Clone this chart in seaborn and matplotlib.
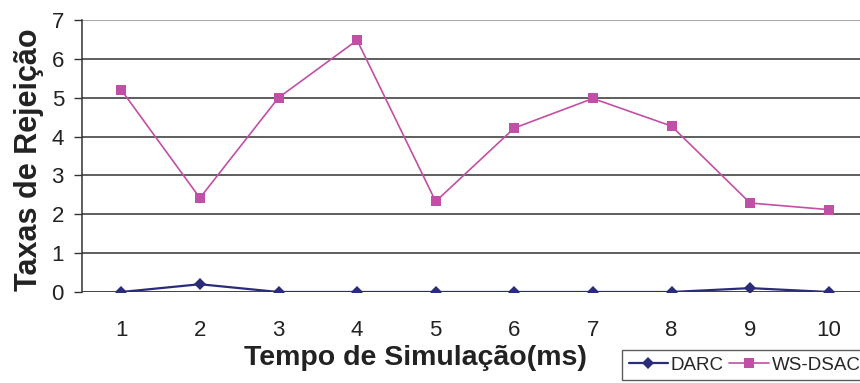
import matplotlib
matplotlib.use("Agg")
import matplotlib.pyplot as plt
import seaborn as sns
import pandas as pd

categories = [1, 2, 3, 4, 5, 6, 7, 8, 9, 10]
darc = [0.0, 0.2, 0.0, 0.0, 0.0, 0.0, 0.0, 0.0, 0.1, 0.0]
ws_dsac = [5.2, 2.42, 5.0, 6.48, 2.33, 4.22, 4.98, 4.27, 2.29, 2.12]
series_names = ["DARC", "WS-DSAC"]
y_ticks = [0, 1, 2, 3, 4, 5, 6, 7]

sns.set_style("white")
plt.rcParams['font.family'] = ['Liberation Sans', 'DejaVu Sans']

df = pd.DataFrame({
    "x": categories * 2,
    "y": darc + ws_dsac,
    "serie": [series_names[0]] * len(categories) + [series_names[1]] * len(categories),
})

fig = plt.figure(figsize=(8.6, 3.83), dpi=100)
ax = fig.add_axes([82/860, 1 - 292/383, (868-82)/860, (292-20)/383])

palette = {"DARC": "#2A2C7A", "WS-DSAC": "#C24FA6"}
sns.lineplot(data=df, x="x", y="y", hue="serie", style="serie",
             markers={"DARC": "D", "WS-DSAC": "s"}, dashes=False,
             palette=palette, ax=ax, legend=False, markeredgewidth=0)
for line, lw, ms in zip(ax.lines, [1.6, 1.2], [6.5, 7.5]):
    line.set_linewidth(lw)
    line.set_markersize(ms)

ax.set_xlim(0.5, 10.5)
ax.set_ylim(0, 7)
ax.set_yticks(y_ticks)
for v in y_ticks[1:-1]:
    ax.axhline(v, color="#333333", lw=1.1, zorder=0)
ax.axhline(7, color="#aaaaaa", lw=1.5, zorder=0)
ax.axhline(0, color="#333333", lw=1.3, zorder=1)

ax.set_xticks(categories)
ax.set_xticks([c + 0.5 for c in categories[:-1]] + [0.5], minor=True)
ax.tick_params(axis="x", which="major", length=0, labelsize=16, pad=20, colors="#222222")
ax.tick_params(axis="x", which="minor", length=7, width=1, color="#333333")
ax.tick_params(axis="y", which="major", length=6, width=1, color="#333333", labelsize=16, pad=7, labelcolor="#222222", direction="out")
ax.tick_params(left=True)

for s in ["top", "right", "bottom"]:
    ax.spines[s].set_visible(False)
ax.spines["left"].set_color("#333333")
ax.spines["left"].set_linewidth(1.1)

ax.set_xlabel("")
ax.set_ylabel("")
fig.text(415/860, 1 - 358/383, "Tempo de Simulação(ms)", ha="center", va="center",
         fontsize=20.5, fontweight="bold", color="#222222")
fig.text(29/860, 1 - 160/383, "Taxas de Rejeição", ha="center", va="center",
         rotation=90, fontsize=22, fontweight="bold", color="#222222")

from matplotlib.lines import Line2D
handles = [Line2D([], [], color=palette["DARC"], marker="D", markersize=6.5, lw=1.6, markeredgewidth=0),
           Line2D([], [], color=palette["WS-DSAC"], marker="s", markersize=6.5, lw=1.2, markeredgewidth=0)]
leg = fig.legend(handles, series_names, loc="upper left", bbox_to_anchor=(622/860, 1 - 350/383),
                 ncol=2, frameon=True, fontsize=13.5, handlelength=2.1, handletextpad=0.15,
                 columnspacing=0.3, borderpad=0.35, borderaxespad=0, fancybox=False)
leg.get_frame().set_edgecolor("#333333")
leg.get_frame().set_linewidth(1.0)

fig.savefig("out.png", dpi=100)
